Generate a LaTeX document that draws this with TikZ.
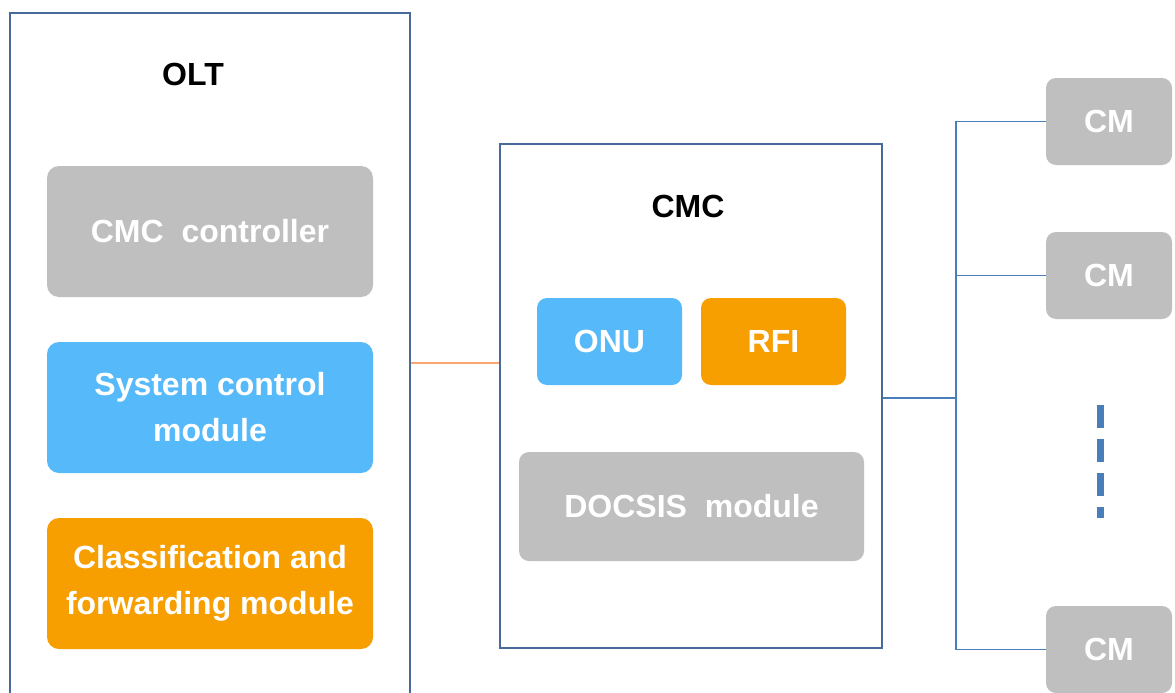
\documentclass[tikz,border=0pt]{standalone}
\usepackage{fontspec}
\setmainfont{Liberation Sans}
\definecolor{boxgray}{RGB}{191,191,191}
\definecolor{boxblue}{RGB}{86,185,249}
\definecolor{boxorange}{RGB}{247,158,0}
\definecolor{frameblue}{RGB}{72,106,155}
\definecolor{lineblue}{RGB}{74,126,187}
\definecolor{lineorange}{RGB}{248,168,110}
\begin{document}
\begin{tikzpicture}[x=1pt,y=-1pt,
  block/.style={rounded corners=12pt,text=white,align=center,inner sep=0pt,
    font=\bfseries\fontsize{32}{46}\selectfont},
  title/.style={font=\bfseries\fontsize{32}{38}\selectfont,text=black,inner sep=0pt},
  conn/.style={draw=lineblue,line width=1.4pt},
]
\clip (0,0) rectangle (1175,693);
\fill[white] (0,0) rectangle (1175,693);
% OLT
\node[draw=frameblue,line width=1.6pt,minimum width=400pt,minimum height=687pt,inner sep=0pt] (olt) at (210,356.5) {};
\node[title] (oltlbl) at (193,74) {OLT};
\node[block,fill=boxgray,minimum width=326pt,minimum height=131pt] (ctl) at (210,231.5) {CMC\ \ controller};
\node[block,fill=boxblue,minimum width=326pt,minimum height=131pt] (sys) at (210,407.5) {System control\\module};
\node[block,fill=boxorange,minimum width=326pt,minimum height=131pt] (cls) at (210,583.5) {Classification and\\forwarding module};
% CMC
\node[draw=frameblue,line width=1.6pt,minimum width=382pt,minimum height=504pt,inner sep=0pt] (cmc) at (691,396) {};
\node[title] (cmclbl) at (688,206) {CMC};
\node[block,fill=boxblue,minimum width=145pt,minimum height=87pt,rounded corners=10pt] (onu) at (609.5,341.5) {ONU};
\node[block,fill=boxorange,minimum width=145pt,minimum height=87pt,rounded corners=10pt] (rfi) at (773.5,341.5) {RFI};
\node[block,fill=boxgray,minimum width=345pt,minimum height=109pt,rounded corners=10pt] (docsis) at (691.5,506.5) {DOCSIS\ \ module};
% CMs
\node[block,fill=boxgray,minimum width=126pt,minimum height=87pt,rounded corners=10pt] (cm1) at (1109,121.5) {CM};
\node[block,fill=boxgray,minimum width=126pt,minimum height=87pt,rounded corners=10pt] (cm2) at (1109,275.5) {CM};
\node[block,fill=boxgray,minimum width=126pt,minimum height=87pt,rounded corners=10pt] (cm3) at (1109,649.5) {CM};
% connectors
\coordinate (link) at (455,363);
\draw[draw=lineorange,line width=1.8pt] (olt.east |- link) -- (cmc.west |- link);
\coordinate (bus) at (956,398);
\draw[conn] (cmc.east |- bus) -- (bus);
\draw[conn] (cm1.west) -| (bus) |- (cm3.west);
\draw[conn] (bus |- cm2.west) -- (cm2.west);
% dots
\coordinate (dtop) at (1100,405);
\coordinate (dbot) at (1100,518);
\draw[draw=lineblue,line width=7pt,dash pattern=on 23pt off 11pt] (dtop) -- (dbot);
\end{tikzpicture}
\end{document}
